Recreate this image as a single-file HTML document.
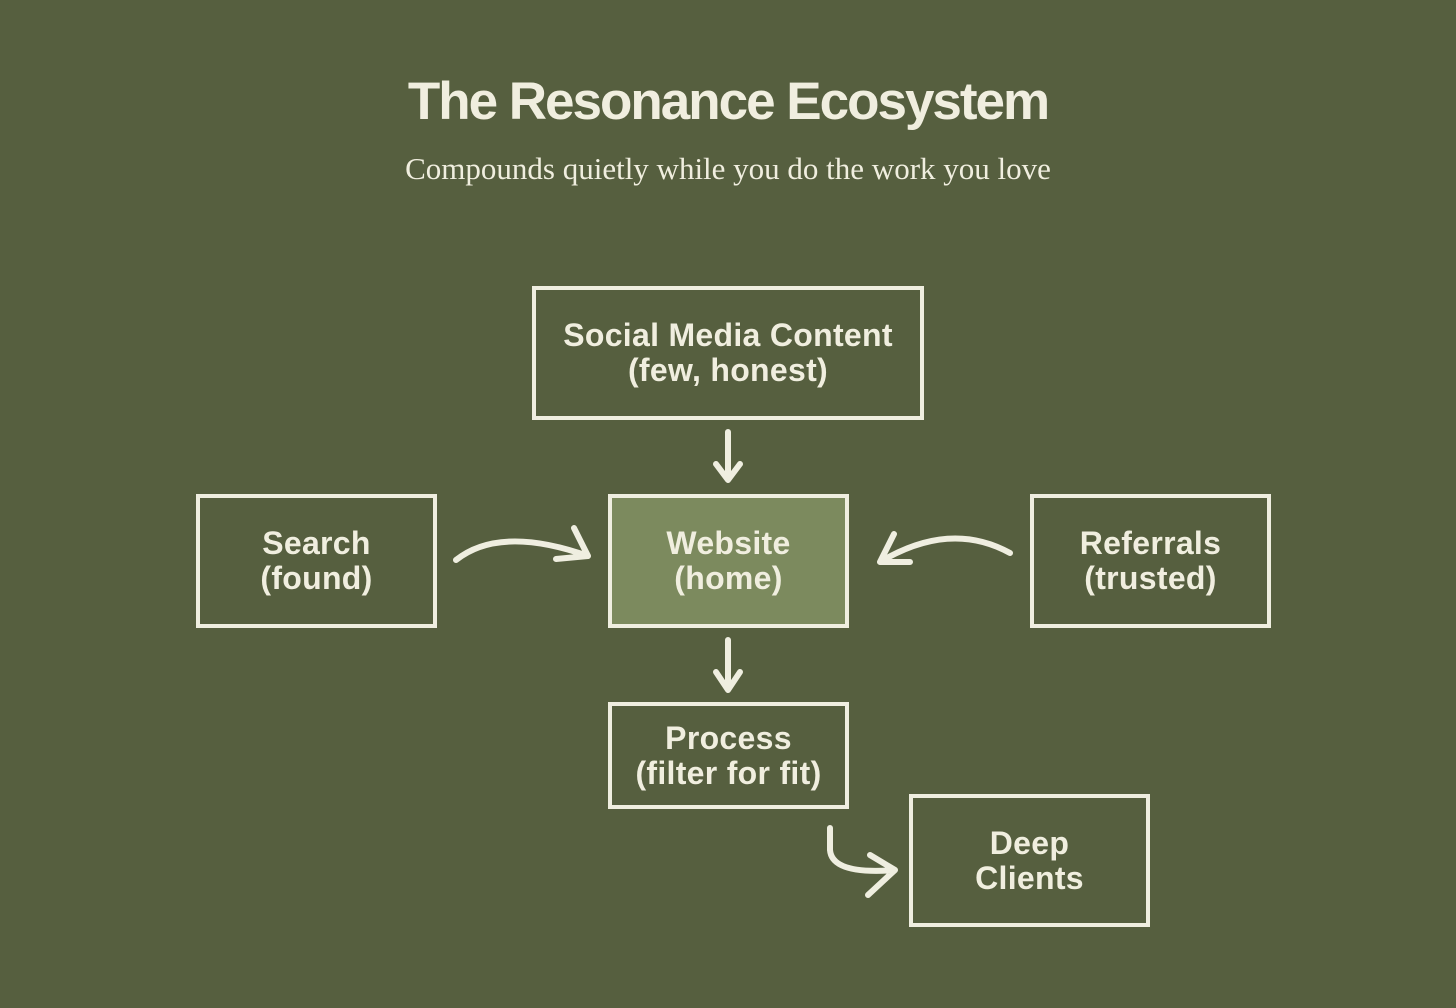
<!DOCTYPE html>
<html><head><style>
body{margin:0;width:1456px;height:1008px;background:#565f3f;position:relative;overflow:hidden;font-family:"Liberation Sans",sans-serif;color:#f0eedf}
.t{position:absolute;left:0;width:1456px;text-align:center}
.b{position:absolute;box-sizing:border-box;border:4px solid #efeee0;display:flex;align-items:center;justify-content:center;text-align:center;font-weight:bold;font-size:32px;line-height:35px;color:#f0eedf;letter-spacing:0.3px}
</style></head><body>
<div class="t" style="top:71px;font-size:53px;font-weight:bold;letter-spacing:-2px">The Resonance Ecosystem</div>
<div class="t" style="top:151px;font-family:'Liberation Serif',serif;font-size:31px">Compounds quietly while you do the work you love</div>
<div class="b" style="left:532px;top:286px;width:392px;height:134px">Social Media Content<br>(few, honest)</div>
<div class="b" style="left:196px;top:494px;width:241px;height:134px">Search<br>(found)</div>
<div class="b" style="left:608px;top:494px;width:241px;height:134px;background:#7c8a5e">Website<br>(home)</div>
<div class="b" style="left:1030px;top:494px;width:241px;height:134px">Referrals<br>(trusted)</div>
<div class="b" style="left:608px;top:702px;width:241px;height:107px">Process<br>(filter for fit)</div>
<div class="b" style="left:909px;top:794px;width:241px;height:133px">Deep<br>Clients</div>
<svg width="1456" height="1008" style="position:absolute;left:0;top:0" fill="none" stroke="#efeee0" stroke-width="6" stroke-linecap="round" stroke-linejoin="round">
<path d="M728 432 V478 M716 464 L728 480 L740 464"/>
<path d="M728 640 V688 M716 672 L728 690 L740 672"/>
<path d="M456 560 Q500 525 588 556 M574 528 L588 556 L556 559"/>
<path d="M1010 553 Q950 520 880 562 M894 534 L880 562 L910 562"/>
<path d="M830 828 V850 Q832 875 895 870 M870 855 L895 870 L868 895"/>
</svg>
</body></html>
